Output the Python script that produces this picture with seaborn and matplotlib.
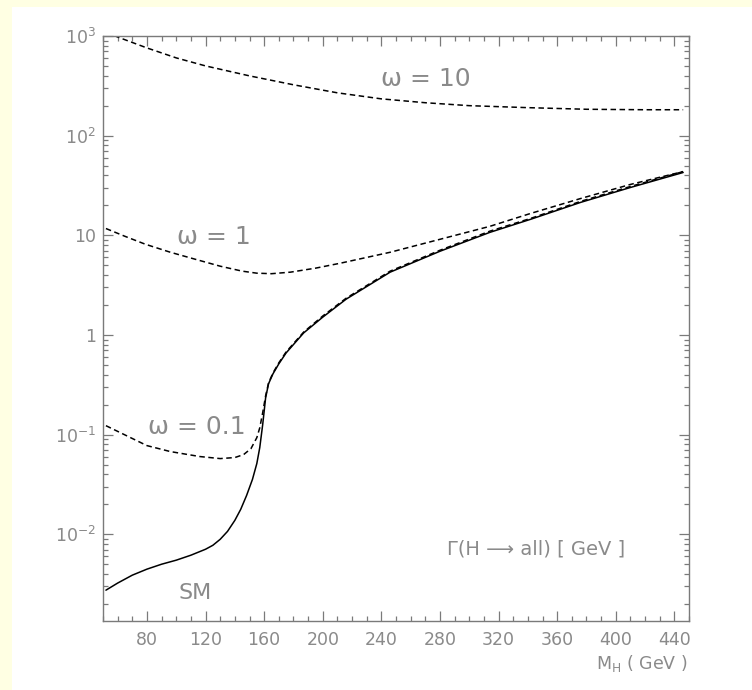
import numpy as np
import pandas as pd
import matplotlib
matplotlib.use("Agg")
import matplotlib.pyplot as plt
from matplotlib.patches import Rectangle
from matplotlib.ticker import FixedLocator, LogLocator, NullFormatter, MultipleLocator
import seaborn as sns

# ---- data ----
sm_mass = [52, 60, 70, 80, 90, 100, 110, 120, 125, 130, 135, 140, 144, 148, 152, 155,
           157, 159, 161, 163, 166, 170, 175, 187, 200, 216, 246, 280, 314, 342, 376,
           410, 446]
sm_width = [0.00275, 0.00324, 0.00389, 0.00447, 0.00501, 0.00550, 0.00617, 0.00708,
            0.00776, 0.00891, 0.0107, 0.0138, 0.0178, 0.0245, 0.0355, 0.0513, 0.0741,
            0.126, 0.234, 0.324, 0.407, 0.513, 0.661, 1.05, 1.51, 2.29, 4.27, 6.92,
            10.7, 14.5, 21.4, 30.2, 42.7]

w01_mass = [52, 66, 80, 96, 116, 130, 140, 146, 151, 155, 157, 159, 161, 163, 166, 170,
            175, 187, 200, 216, 246, 280, 314, 342, 376, 410, 446]
w01_width = [0.123, 0.0977, 0.0776, 0.0676, 0.0603, 0.0575, 0.0589, 0.0631, 0.0724,
             0.0933, 0.117, 0.166, 0.245, 0.330, 0.415, 0.525, 0.676, 1.07, 1.55, 2.34,
             4.37, 7.08, 11.0, 14.8, 21.9, 30.9, 43.6]

w1_mass = [52, 65, 79, 96, 113, 130, 145, 155, 165, 178, 195, 212, 246, 280, 314, 342,
           376, 410, 446]
w1_width = [11.7, 9.77, 8.13, 6.76, 5.75, 4.90, 4.37, 4.17, 4.12, 4.27, 4.68, 5.25, 6.76,
            9.12, 12.3, 16.6, 23.4, 32.4, 43.6]

w10_mass = [52, 60, 80, 100, 120, 150, 180, 210, 240, 270, 300, 340, 380, 420, 446]
w10_width = [1096, 977, 759, 603, 501, 398, 324, 269, 234, 214, 200, 191, 184, 182, 182]

x_ticks = [80, 120, 160, 200, 240, 280, 320, 360, 400, 440]
y_ticks = [1e-2, 1e-1, 1, 10, 1e2, 1e3]
y_ticklabels = [r"$\mathregular{10^{-2}}$", r"$\mathregular{10^{-1}}$", "1", "10",
                r"$\mathregular{10^{2}}$", r"$\mathregular{10^{3}}$"]

# ---- style ----
sns.set_style("ticks")
plt.rcParams["font.family"] = ["DejaVu Sans"]
grey = "#8a8a8a"
axgrey = "#7a7a7a"

fig = plt.figure(figsize=(7.52, 6.90), dpi=100)
fig.patch.set_facecolor("#ffffe3")
panel = Rectangle((12 / 752, 0), 1 - 12 / 752, 1 - 7 / 690,
                  transform=fig.transFigure, facecolor="white",
                  edgecolor="none", zorder=-10)
fig.patches.append(panel)

ax = fig.add_axes([103 / 752, 1 - 621 / 690, (689 - 103) / 752, (621 - 36) / 690])
ax.set_zorder(5)
ax.set_facecolor("white")

dash = (0, (3.6, 2.3))
sns.lineplot(x=sm_mass, y=sm_width, ax=ax, color="black", lw=1.1, sort=False)
sns.lineplot(x=w01_mass, y=w01_width, ax=ax, color="black", lw=1.1, linestyle=dash, sort=False)
sns.lineplot(x=w1_mass, y=w1_width, ax=ax, color="black", lw=1.1, linestyle=dash, sort=False)
sns.lineplot(x=w10_mass, y=w10_width, ax=ax, color="black", lw=1.1, linestyle=dash, sort=False)

ax.set_yscale("log")
ax.set_xlim(50, 450)
ax.set_ylim(10 ** -2.87, 1e3)

ax.xaxis.set_major_locator(FixedLocator(x_ticks))
ax.xaxis.set_minor_locator(MultipleLocator(10))
ax.set_xticklabels([str(v) for v in x_ticks])
ax.yaxis.set_major_locator(FixedLocator(y_ticks))
ax.set_yticklabels(y_ticklabels)
ax.yaxis.set_minor_locator(LogLocator(base=10, subs=np.arange(2, 10)))
ax.yaxis.set_minor_formatter(NullFormatter())

for sp in ax.spines.values():
    sp.set_visible(True)
    sp.set_color(axgrey)
    sp.set_linewidth(1.0)

ax.tick_params(which="both", direction="in", top=True, right=True, color=axgrey,
               width=0.9, labelcolor=grey, labelsize=12.5)
ax.tick_params(which="major", length=7.2)
ax.tick_params(which="minor", length=3.6)
ax.tick_params(axis="x", which="major", pad=7)
ax.tick_params(axis="y", which="major", pad=5)

ax.set_xlabel("")
ax.set_ylabel("")

# ---- annotations ----
tk = dict(color=grey, transform=fig.transFigure, ha="left", va="center", zorder=10)
fig.text(381 / 752, 1 - 79 / 690, "ω = 10", fontsize=18, **tk)
fig.text(177 / 752, 1 - 237 / 690, "ω = 1", fontsize=18, **tk)
fig.text(148 / 752, 1 - 427 / 690, "ω = 0.1", fontsize=18, **tk)
fig.text(178 / 752, 1 - 593 / 690, "SM", fontsize=16, **tk)
fig.text(625 / 752, 1 - 549 / 690, "Γ(H ⟶ all) [ GeV ]", fontsize=14,
         color=grey, transform=fig.transFigure, ha="right", va="center", zorder=10)
fig.text(687 / 752, 1 - 663 / 690, r"M$_\mathregular{H}$ ( GeV )", fontsize=12.5,
         color=grey, transform=fig.transFigure, ha="right", va="center", zorder=10)

fig.savefig("out.png", dpi=100, facecolor=fig.get_facecolor())
